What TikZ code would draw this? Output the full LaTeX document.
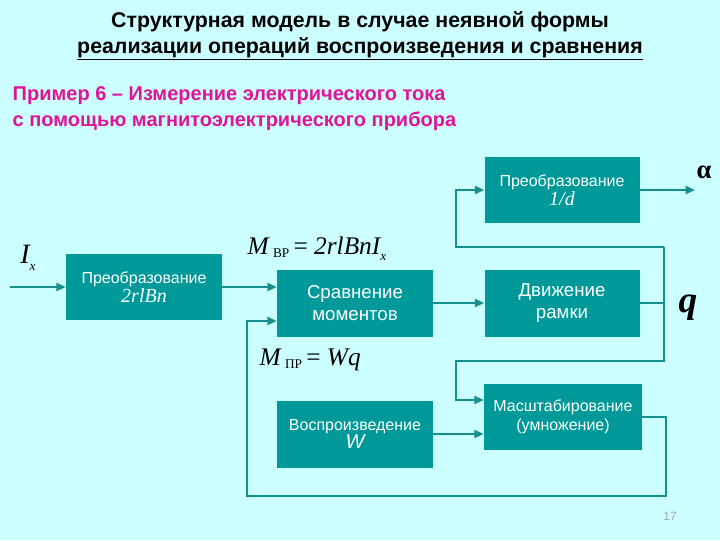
\documentclass[tikz,border=0pt]{standalone}
\usepackage{fontspec}
\setmainfont{Liberation Sans}
\newfontfamily\serifm{Liberation Serif}
\usetikzlibrary{arrows.meta}
\definecolor{bg}{HTML}{CCFFFF}
\definecolor{boxc}{HTML}{009999}
\definecolor{linec}{HTML}{178F8F}
\definecolor{mag}{HTML}{E0149A}
\begin{document}
\begin{tikzpicture}[x=0.75pt,y=-0.75pt,
  blk/.style={fill=boxc,text=white,inner sep=0pt,align=center,font=\fontsize{14}{16}\selectfont},
  con/.style={draw=linec,line width=1.5pt,-{Triangle[length=7pt,width=6pt]}},
  lin/.style={draw=linec,line width=1.5pt}]
\fill[bg] (0,0) rectangle (720,540);
\node[font=\bfseries\fontsize{16}{19.5}\selectfont,align=center] (title) at (360,36) {Структурная модель в случае неявной формы\\\underline{реализации операций воспроизведения и сравнения}};
\node[font=\bfseries\fontsize{15}{19}\selectfont,text=mag,align=left,anchor=north west] (sub) at (8,82) {Пример 6 – Измерение электрического тока\\с помощью магнитоэлектрического прибора};
\node[blk,minimum width=156*0.75pt,minimum height=66*0.75pt,font=\fontsize{12}{14}\selectfont] (c1) at (144,287) {Преобразование\\{\serifm\itshape\fontsize{15}{16}\selectfont 2rlBn}};
\node[blk,minimum width=156*0.75pt,minimum height=67*0.75pt] (cmp) at (355,303) {Сравнение\\моментов};
\node[blk,minimum width=155*0.75pt,minimum height=67*0.75pt] (mot) at (562,303) {Движение\\рамки};
\node[blk,minimum width=155*0.75pt,minimum height=66*0.75pt,font=\fontsize{12}{14}\selectfont] (c2) at (562,190) {Преобразование\\{\serifm\itshape\fontsize{15}{17}\selectfont 1/d}};
\node[blk,minimum width=158*0.75pt,minimum height=66*0.75pt,font=\fontsize{12}{14}\selectfont] (sc) at (563,417) {Масштабирование\\(умножение)};
\node[blk,minimum width=156*0.75pt,minimum height=67*0.75pt,font=\fontsize{12}{14}\selectfont] (rp) at (355,434) {Воспроизведение\\{\fontsize{15}{16}\selectfont\itshape W}};
\coordinate (ix) at (10,287);
\coordinate (aout) at (695,190);
\node[font=\serifm\itshape\fontsize{21}{21}\selectfont] (lIx) at (28,258) {I\raisebox{-0.5ex}{\fontsize{10}{10}\selectfont x}};
\node[font=\serifm\bfseries\fontsize{20}{20}\selectfont] (la) at (704,172) {α};
\node[font=\serifm\itshape\bfseries\fontsize{28}{28}\selectfont] (lq) at (688,308) {q};
\node[font=\serifm\itshape\fontsize{19}{19}\selectfont,anchor=west] (lm1) at (243,249) {M\,{\upshape\fontsize{10}{10}\selectfont\raisebox{-0.4ex}{ВР}}\,{\upshape =} 2rlBnI\raisebox{-0.5ex}{\fontsize{10}{10}\selectfont x}};
\node[font=\serifm\itshape\fontsize{19}{19}\selectfont,anchor=west] (lm2) at (255,360) {M\,{\upshape\fontsize{10}{10}\selectfont\raisebox{-0.4ex}{ПР}}\,{\upshape =} Wq};
\node[text=gray!70,font=\fontsize{9}{9}\selectfont] (pg) at (670,516) {17};
\draw[con] (ix) -- (c1.west);
\draw[con] (c1.east) -- (cmp.west |- c1.east);
\draw[con] (cmp.east) -- (mot.west);
\draw[lin] (mot.east) -- (664,303) -- (664,247);
\draw[con] (664,247) -- (456,247) -- (456,190) -- (c2.west);
\draw[con] (c2.east) -- (aout);
\draw[con] (664,303) -- (664,361) -- (456,361) -- (456,400) -- (sc.west |- 0,400);
\draw[con] (rp.east) -- (sc.west |- rp.east);
\draw[con] (sc.east) -- (666,417) -- (666,496) -- (247,496) -- (247,321) -- (cmp.west |- 0,321);
\end{tikzpicture}
\end{document}
